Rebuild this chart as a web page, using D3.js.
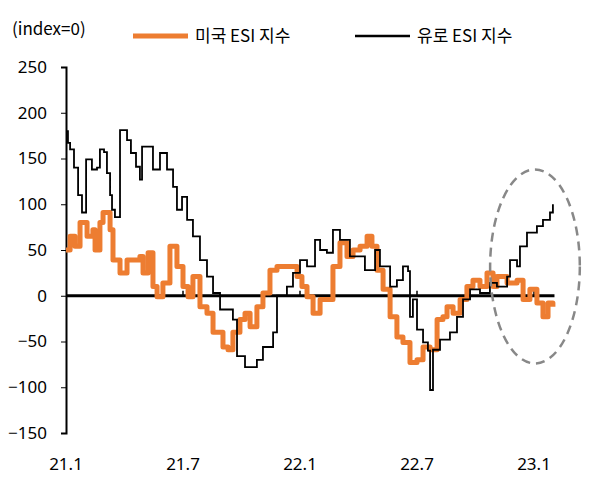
<!DOCTYPE html>
<html><head><meta charset="utf-8">
<script src="https://cdn.jsdelivr.net/npm/d3@7"></script>
<style>body{margin:0;background:#fff}text{font-family:"Noto Sans CJK KR","Noto Sans",sans-serif}</style>
</head><body><div id="chart"></div>
<script>
// months since 2021.1
var usMonths = [0,.21,.46,.72,1.08,1.38,1.49,1.74,1.9,2.26,2.41,2.77,3.13,3.79,3.95,4.21,4.46,4.67,4.97,5.33,5.69,6,6.26,6.51,6.87,7.23,7.54,8.05,8.31,8.56,8.92,9.18,9.44,9.79,10.1,10.46,10.82,11.33,11.85,12.1,12.36,12.67,13.03,13.38,13.69,14.05,14.41,14.72,15.08,15.44,15.69,15.95,16.26,16.62,16.97,17.28,17.64,18,18.31,18.67,19.03,19.33,19.54,19.85,20.21,20.56,20.87,21.23,21.59,21.9,22.1,22.62,23.13,23.44,23.79,24.15,24.46,24.72,24.97];
var usValues = [50,65,54,80,65,72,50,80,91,72,39,25,39,43,25,47,10,-1,14,54,32,10,-1,21,-12,-19,-40,-56,-59,-40,-26,-19,-34,-12,3,28,32,32,21,10,-1,-19,-4,-4,32,58,43,50,54,65,54,28,7,-23,-45,-51,-73,-70,-56,-59,-26,-23,-12,-19,-4,10,17,10,25,10,21,14,17,-4,7,-8,-23,-8,-12];
var euMonths = [0,.1,.21,.41,.62,.82,1.03,1.33,1.59,1.74,1.95,2.1,2.26,2.36,2.51,2.77,3.13,3.33,3.59,3.79,3.9,4.31,4.46,4.82,5.18,5.49,5.69,5.95,6.21,6.51,6.87,7.23,7.54,7.9,8.56,8.77,9.18,9.79,10.1,10.62,10.82,11.33,11.64,12,12.36,12.77,13.03,13.38,13.69,14.05,14.56,14.92,15.33,15.59,15.85,16.1,16.62,16.97,17.28,17.54,17.64,17.79,18,18.31,18.56,18.67,18.82,19.18,19.69,20.05,20.36,20.72,21.23,21.74,22.1,22.62,22.77,23.13,23.28,23.64,24.15,24.46,24.82,24.97];
var euValues = [180,167,160,140,110,91,149,138,140,160,157,134,110,94,86,181,170,156,141,127,163,163,138,156,138,119,94,108,83,65,39,21,3,-15,-26,-66,-78,-70,-56,-40,0,10,25,39,32,61,50,47,72,61,43,43,28,28,50,32,10,17,32,27,-23,-4,-37,-51,-60,-103,-59,-48,-40,-23,-4,7,3,14,10,21,39,32,54,69,76,83,91,100];
var xTicks = [0,6,12,18,24];
var xTickLabels = ["21.1","21.7","22.1","22.7","23.1"];
var yTicks = [-150,-100,-50,0,50,100,150,200,250];

var W = 603, H = 489;
var svg = d3.select("#chart").append("svg").attr("width", W).attr("height", H);
var x = d3.scaleLinear().domain([0, 24]).range([66, 534]);
var y = d3.scaleLinear().domain([-150, 250]).range([433, 67]);

// y axis
var ya = svg.append("g").attr("transform", "translate(66,0)")
    .call(d3.axisLeft(y).tickValues(yTicks).tickSize(5).tickPadding(14));
ya.select(".domain").attr("stroke-width", 2);
ya.selectAll("text").style("font-size", "17px").style("font-family", "'Noto Sans','Liberation Sans',sans-serif").attr("fill", "#000");

svg.selectAll(".xl").data(xTicks).enter().append("text")
    .attr("x", d => x(d)).attr("y", 470).attr("text-anchor", "middle")
    .style("font-size", "17px").style("font-family", "'Noto Sans','Liberation Sans',sans-serif")
    .text((d, i) => xTickLabels[i]);

// zero line
svg.append("line").attr("x1", 66).attr("x2", x(25.05)).attr("y1", y(0)).attr("y2", y(0))
    .attr("stroke", "#000").attr("stroke-width", 3);
svg.selectAll(".xt").data(xTicks.slice(1)).enter().append("line")
    .attr("x1", d => x(d)).attr("x2", d => x(d)).attr("y1", y(0)).attr("y2", y(0) - 5)
    .attr("stroke", "#000").attr("stroke-width", 1.5);

var line = d3.line().curve(d3.curveStepAfter).x(d => x(d[0])).y(d => y(d[1]));
svg.append("path").datum(usMonths.map((m, i) => [m, usValues[i]]))
    .attr("d", line).attr("fill", "none").attr("stroke", "#ED7D31").attr("stroke-width", 5).attr("stroke-linejoin", "round");
svg.append("path").datum(euMonths.map((m, i) => [m, euValues[i]]))
    .attr("d", line).attr("fill", "none").attr("stroke", "#000").attr("stroke-width", 1.8);

// highlight ellipse
svg.append("ellipse").attr("cx", x(24.05)).attr("cy", y(32))
    .attr("rx", x(2.3) - x(0)).attr("ry", y(0) - y(106))
    .attr("fill", "none").attr("stroke", "#888").attr("stroke-width", 2.5).attr("stroke-dasharray", "9,6");

// header + legend
svg.append("text").attr("x", 12).attr("y", 35).style("font-size", "17px").text("(index=0)");
var legend = [["미국 ESI 지수", "#ED7D31", 5, 133], ["유로 ESI 지수", "#000", 2.5, 355]];
legend.forEach(function(l) {
    svg.append("line").attr("x1", l[3]).attr("x2", l[3] + 55).attr("y1", 36).attr("y2", 36)
        .attr("stroke", l[1]).attr("stroke-width", l[2]);
    svg.append("text").attr("x", l[3] + 62).attr("y", 42).style("font-size", "17px").text(l[0]);
});
</script></body></html>
